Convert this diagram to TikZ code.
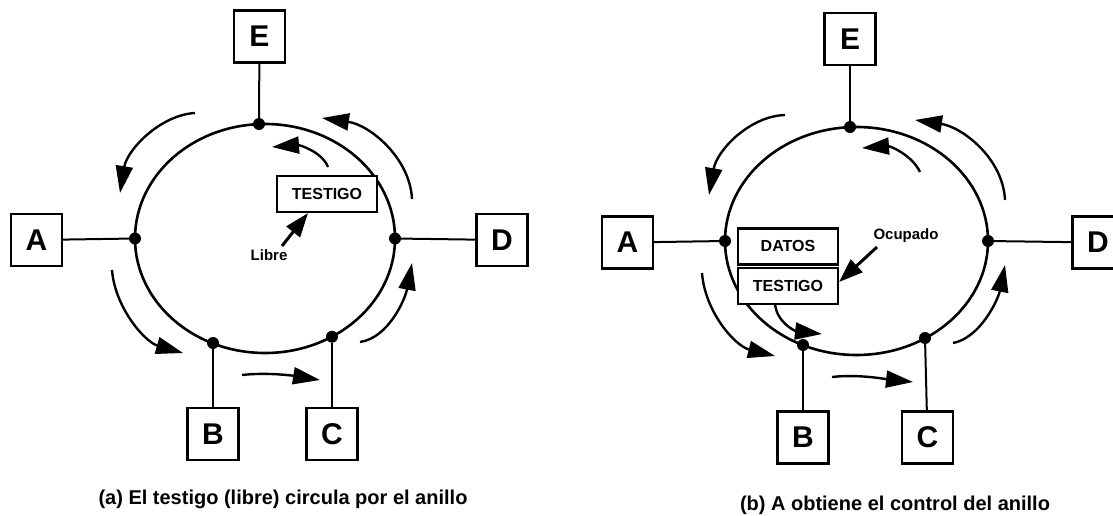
\documentclass[tikz,border=0pt]{standalone}
\usepackage{fontspec}
\setmainfont{Liberation Sans}
\usetikzlibrary{arrows.meta}
\begin{document}
\begin{tikzpicture}[x=1pt,y=-1pt,
  station/.style={draw, line width=2.2pt, minimum width=51pt, minimum height=52pt, inner sep=0pt, font=\fontsize{30}{30}\selectfont\bfseries},
  frame/.style={draw, line width=2.2pt, minimum width=100pt, minimum height=36pt, inner sep=0pt, font=\fontsize{16}{16}\selectfont\bfseries},
  ring/.style={line width=2.6pt},
  tap/.style={line width=2pt},
  dot/.style={circle, fill, inner sep=0pt, minimum size=12pt},
  flow/.style={line width=2.4pt, -{Triangle[length=27pt,width=17pt]}},
  ptr/.style={line width=3pt, -{Triangle[length=24pt,width=17pt]}},
  lbl/.style={font=\fontsize{15}{15}\selectfont\bfseries, inner sep=0pt},
  captext/.style={font=\fontsize{20}{20}\selectfont\bfseries, inner sep=0pt}]
\useasboundingbox (0,0) rectangle (1113,516);
\clip (0,0) rectangle (1113,516);

% ================= (a) =================
\draw[ring] (265,238.5) ellipse [x radius=130pt, y radius=114.5pt];
\node[dot] (aE) at (259,124) {};
\node[dot] (aA) at (135,238.5) {};
\node[dot] (aD) at (395,238.5) {};
\node[dot] (aB) at (213,343) {};
\node[dot] (aC) at (332,336.7) {};

\node[station] (aEbox) at (259.5,36.5) {E};
\node[station] (aAbox) at (36.5,240) {A};
\node[station] (aDbox) at (502,240) {D};
\node[station] (aBbox) at (213,434) {B};
\node[station] (aCbox) at (332,434) {C};

\draw[tap] (aEbox) -- (aE);
\draw[tap] (aAbox) -- (aA);
\draw[tap] (aDbox) -- (aD);
\draw[tap] (aBbox) -- (aB);
\draw[tap] (aCbox) -- (aC);

\node[frame, fill=white] (aTok) at (327,194) {TESTIGO};
\node[lbl] (aLibre) at (269,255) {Libre};
\coordinate (aLt) at (282,246);
\draw[ptr] (aLt) -- (aTok.south west -| 308,0);

\coordinate (a1s) at (195,113); \coordinate (a1e) at (120,193);
\draw[flow] (a1s) .. controls (160,115) and (127,150) .. (a1e);
\coordinate (a2s) at (112,270); \coordinate (a2e) at (183,353);
\draw[flow] (a2s) .. controls (115,308) and (145,342) .. (a2e);
\coordinate (a3s) at (242,375); \coordinate (a3e) at (320,380);
\draw[flow] (a3s) .. controls (268,372) and (295,376) .. (a3e);
\coordinate (a4s) at (360,342); \coordinate (a4e) at (412,263);
\draw[flow] (a4s) .. controls (388,338) and (405,300) .. (a4e);
\coordinate (a5s) at (412,199); \coordinate (a5e) at (322,118);
\draw[flow] (a5s) .. controls (410,158) and (370,125) .. (a5e);
\coordinate (a6s) at (328,167); \coordinate (a6e) at (272,147);
\draw[flow] (a6s) .. controls (322,152) and (300,145) .. (a6e);

\node[captext] (capA) at (283,499) {(a) El testigo (libre) circula por el anillo};

% ================= (b) =================
\draw[ring] (856.5,241) ellipse [x radius=131.5pt, y radius=114pt];
\node[dot] (bE) at (850,127) {};
\node[dot] (bA) at (725,241) {};
\node[dot] (bD) at (988,241) {};
\node[dot] (bB) at (803,345) {};
\node[dot] (bC) at (925,338) {};

\node[station] (bEbox) at (850,39) {E};
\node[station] (bAbox) at (627.5,242.5) {A};
\node[station] (bDbox) at (1098,242.5) {D};
\node[station] (bBbox) at (803,437.5) {B};
\node[station] (bCbox) at (927.5,437.5) {C};

\draw[tap] (bEbox) -- (bE);
\draw[tap] (bAbox) -- (bA);
\draw[tap] (bDbox) -- (bD);
\draw[tap] (bBbox) -- (bB);
\draw[tap] (bCbox) -- (bC);

\node[frame, fill=white, anchor=south] (bDat) at (788,265.5) {DATOS};
\node[frame, fill=white, anchor=north] (bTok) at (788,267) {TESTIGO};
\node[lbl] (bOcu) at (906,236) {Ocupado};
\coordinate (bOt) at (877,247);
\draw[ptr] (bOt) -- (bTok.east |- 0,282);

\coordinate (b1s) at (785,115); \coordinate (b1e) at (709,195);
\draw[flow] (b1s) .. controls (750,116) and (717,150) .. (b1e);
\coordinate (b2s) at (702,273); \coordinate (b2e) at (775,356);
\draw[flow] (b2s) .. controls (705,312) and (735,346) .. (b2e);
\coordinate (b3s) at (832,377); \coordinate (b3e) at (913,382);
\draw[flow] (b3s) .. controls (858,374) and (885,379) .. (b3e);
\coordinate (b4s) at (953,343); \coordinate (b4e) at (1005,265);
\draw[flow] (b4s) .. controls (980,338) and (998,300) .. (b4e);
\coordinate (b5s) at (1005,200); \coordinate (b5e) at (915,120);
\draw[flow] (b5s) .. controls (1003,158) and (962,127) .. (b5e);
\coordinate (b6s) at (920,172); \coordinate (b6e) at (862,148);
\draw[flow] (b6s) .. controls (912,155) and (890,146) .. (b6e);
\coordinate (b7s) at (775,303); \coordinate (b7e) at (822,334);
\draw[flow] (b7s) .. controls (776,322) and (795,331) .. (b7e);

\node[captext] (capB) at (895,505) {(b) A obtiene el control del anillo};
\end{tikzpicture}
\end{document}
